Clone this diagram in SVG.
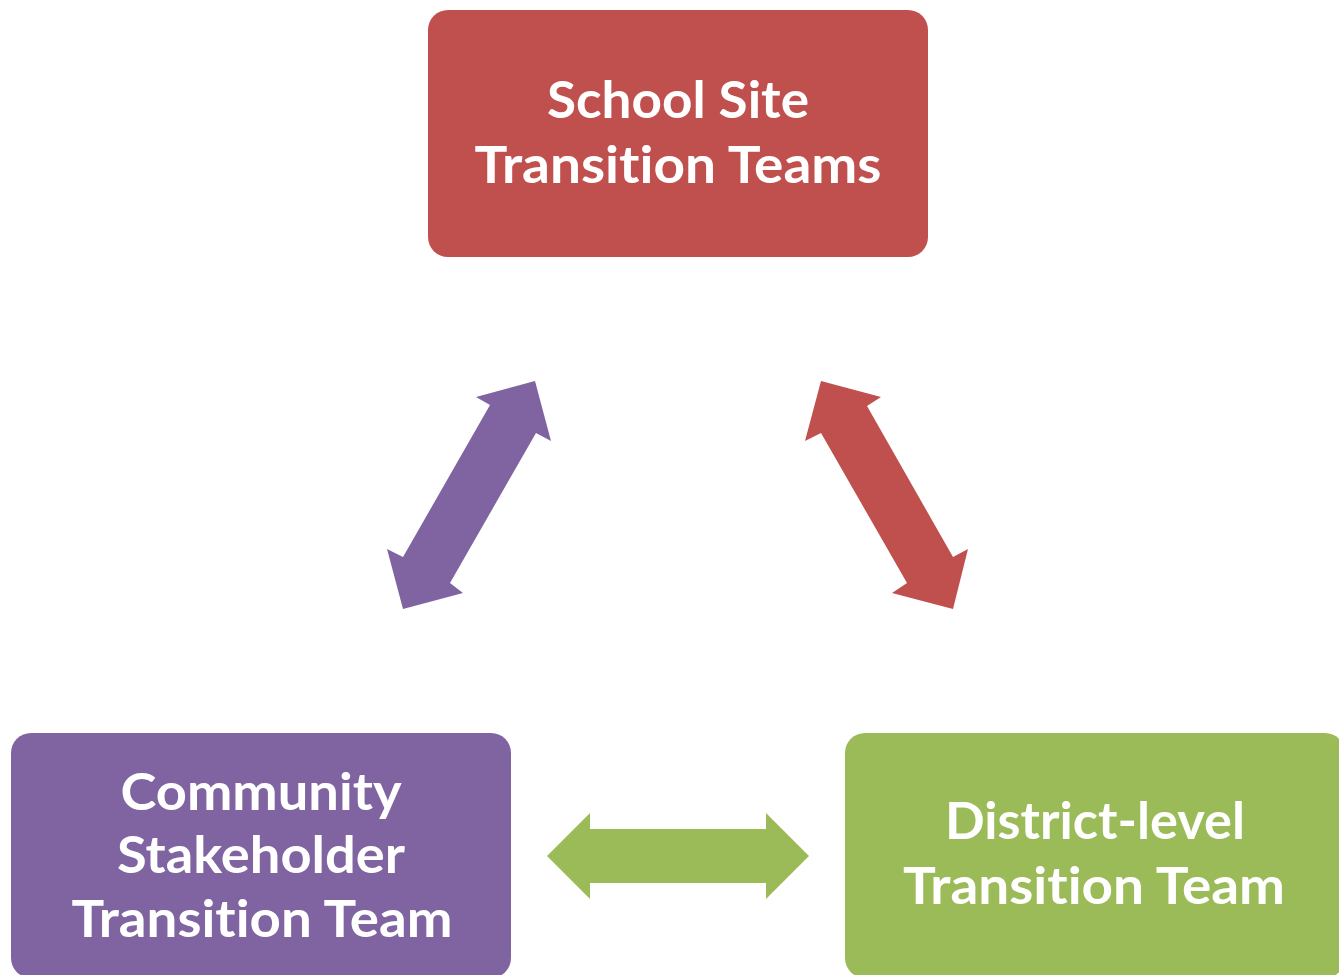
<svg xmlns="http://www.w3.org/2000/svg" width="1339" height="975" viewBox="0 0 1339 975">
<style>
.lbl{font-family:Lato,"Noto Sans","Liberation Sans",sans-serif;font-weight:700;font-size:52px;fill:#FFFFFF;text-anchor:middle;font-variant-ligatures:none;font-feature-settings:"liga" 0,"clig" 0}
.red{fill:#C0504D}.purple{fill:#8064A2}.green{fill:#9BBB59}
</style>
<rect width="1339" height="975" fill="#FFFFFF"/>
<g id="connectors">
<polygon class="purple" points="535,381 551,441 536,433 450,583 463,593 403,609 387,549 403,557 490,405 476,397"/>
<polygon class="red" points="821,381 881,397 867,406 953,557 968,549 953,609 892,593 907,583 821,433 805,441"/>
<polygon class="green" points="547,856 590,813 590,829 766,829 766,813 809,856 766,899 766,883 590,883 590,899"/>
</g>
<g id="school-site">
<rect class="red" x="428" y="10" width="500" height="247" rx="20" ry="20"/>
<text class="lbl" x="678" y="118" textLength="262" lengthAdjust="spacingAndGlyphs">School Site</text>
<text class="lbl" x="678" y="183" textLength="407" lengthAdjust="spacingAndGlyphs">Transition Teams</text>
</g>
<g id="community">
<rect class="purple" x="11" y="733" width="500" height="245" rx="20" ry="20"/>
<text class="lbl" x="261" y="810" textLength="281" lengthAdjust="spacingAndGlyphs">Community</text>
<text class="lbl" x="261" y="873" textLength="288" lengthAdjust="spacingAndGlyphs">Stakeholder</text>
<text class="lbl" x="262" y="937" textLength="381" lengthAdjust="spacingAndGlyphs">Transition Team</text>
</g>
<g id="district">
<rect class="green" x="845" y="733" width="500" height="245" rx="20" ry="20"/>
<text class="lbl" x="1095" y="839" textLength="300" lengthAdjust="spacingAndGlyphs">District-level</text>
<text class="lbl" x="1094" y="904" textLength="382" lengthAdjust="spacingAndGlyphs">Transition Team</text>
</g>
</svg>
